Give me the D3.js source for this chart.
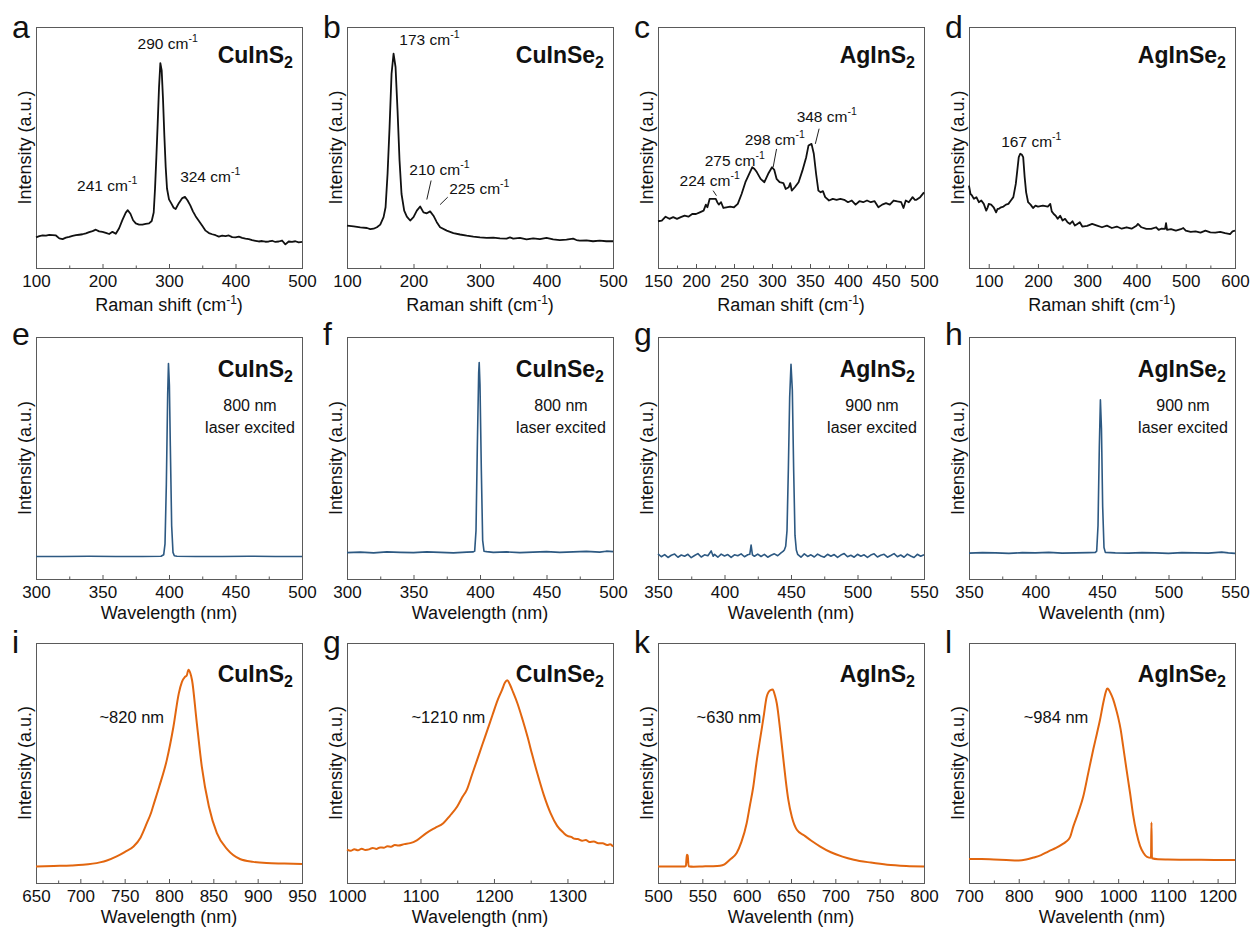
<!DOCTYPE html>
<html>
<head>
<meta charset="utf-8">
<script src="https://cdn.jsdelivr.net/npm/d3@7"></script>
<style>
  body { margin: 0; background: #fff; }
  svg { display: block; }
  text { font-family: "Liberation Sans", Arial, sans-serif; fill: #111; }
</style>
</head>
<body>
<svg id="fig" width="1250" height="928"></svg>
<script>
// ---- Raman spectra (intensity in % of plot height) ----
const ramanCuInS2 = [[100,12.7],[105,13.2],[110,13.5],[115,13.4],[120,13.7],[125,13.6],[130,13.5],[135,12.3],[140,12.0],[145,12.6],[150,12.9],[155,13.3],[160,13.6],[165,13.8],[170,14.0],[175,14.4],[180,14.9],[185,15.3],[190,15.9],[195,15.2],[200,15.0],[205,14.6],[210,14.1],[215,15.0],[220,14.2],[225,16.5],[230,20.0],[235,23.0],[238,24.0],[242,22.5],[246,19.8],[250,18.5],[255,18.0],[260,18.0],[265,18.3],[270,18.5],[274,19.5],[277,23],[279,33],[281,46],[283,60],[285,75],[287,85],[289,82],[291,70],[293,55],[295,42],[297,33],[300,28.5],[303,27.0],[307,25.0],[310,24.5],[315,27.0],[320,29.0],[324,29.5],[328,28],[332,26],[336,23.5],[340,21.5],[345,19.5],[350,17.5],[355,15.5],[360,14.5],[365,14.0],[370,13.6],[375,13.0],[380,13.4],[385,13.2],[390,13.5],[395,12.8],[400,12.7],[405,13.0],[410,12.5],[415,12.2],[420,12.0],[425,11.6],[430,11.3],[435,11.0],[440,11.2],[445,10.9],[450,11.0],[455,11.3],[460,10.8],[465,11.0],[470,11.4],[475,9.8],[480,11.0],[485,10.8],[490,11.1],[495,10.6],[500,10.8]];
const ramanCuInSe2 = [[100,17.6],[110,17.3],[120,16.9],[130,16.6],[135,16.1],[140,16.3],[145,16.9],[150,18.0],[155,21.1],[158,25.2],[161,39.1],[164,58.4],[167,80.6],[170,88.9],[173,83.4],[176,65.4],[179,44.6],[182,30.7],[186,23.8],[190,21.3],[195,19.7],[200,21.1],[205,23.8],[210,25.5],[215,23.1],[220,22.7],[225,23.5],[230,21.7],[235,19.0],[240,16.9],[250,15.5],[260,14.5],[270,13.9],[280,13.4],[290,13.0],[300,12.7],[310,12.5],[320,12.6],[330,12.3],[340,12.2],[345,12.7],[350,12.2],[360,12.5],[370,11.9],[380,12.3],[390,12.0],[400,12.5],[410,11.9],[420,11.6],[430,11.8],[440,12.2],[445,11.6],[450,11.4],[460,11.5],[470,11.1],[480,11.4],[490,11.1],[500,11.1]];
const ramanAgInS2 = [[150,19.4],[155,19.7],[160,21.3],[165,20.4],[170,21.1],[175,20.4],[180,21.1],[185,21.7],[190,21.3],[195,22.4],[200,22.4],[205,23.1],[210,23.8],[213,26.3],[215,25.2],[218,28.7],[222,28.7],[226,28.7],[228,27.3],[230,26.3],[233,27.3],[236,24.9],[240,25.2],[245,25.5],[250,25.2],[255,26.6],[260,30.7],[265,35.6],[270,39.1],[274,41.8],[277,41.1],[280,39.8],[285,37.0],[290,35.6],[295,39.1],[300,41.8],[303,40.7],[306,37.0],[310,35.6],[315,35.2],[318,32.8],[322,33.5],[324,35.2],[326,32.1],[330,33.5],[335,35.6],[340,40.4],[345,46.0],[348,50.8],[352,51.5],[355,47.4],[358,39.1],[361,32.1],[364,31.4],[367,31.9],[370,29.4],[375,28.0],[380,28.7],[385,28.3],[390,28.7],[395,28.3],[400,27.3],[405,28.0],[410,26.3],[415,27.7],[420,27.3],[425,28.0],[430,27.3],[435,27.7],[440,25.2],[445,26.3],[450,26.9],[455,26.3],[460,28.0],[465,27.6],[470,27.3],[473,24.9],[476,28.0],[480,27.3],[485,29.4],[488,28.3],[490,28.3],[495,29.4],[500,31.4]];
const ramanAgInSe2 = [[60,34.2],[63,30.7],[66,30.1],[70,28.7],[75,29.4],[80,27.3],[85,28.0],[90,26.6],[95,23.8],[98,25.2],[100,26.6],[105,26.3],[110,25.2],[115,23.1],[118,24.5],[120,24.5],[125,25.2],[130,25.5],[135,26.3],[140,26.6],[145,28.0],[150,29.4],[155,34.9],[158,40.4],[161,46.0],[164,47.4],[167,47.1],[170,46.0],[173,37.7],[176,31.4],[180,27.3],[185,26.3],[190,24.9],[195,25.9],[200,25.5],[210,25.9],[220,25.5],[225,26.6],[228,23.5],[232,22.4],[236,21.7],[240,20.4],[245,21.7],[250,19.7],[255,20.4],[260,19.0],[265,18.3],[270,19.4],[275,17.6],[280,18.3],[285,19.0],[290,17.2],[300,17.5],[310,18.3],[320,17.6],[330,16.9],[340,17.6],[350,16.6],[360,17.2],[370,16.3],[380,16.9],[390,16.3],[400,17.5],[403,18.3],[410,16.9],[420,16.2],[430,16.2],[440,16.9],[445,15.8],[450,16.3],[458,16.2],[460,18.6],[462,15.8],[470,16.1],[480,15.5],[490,16.1],[495,16.6],[500,15.5],[510,15.0],[520,15.2],[530,14.7],[540,15.5],[550,14.8],[560,14.7],[570,15.0],[580,14.5],[590,14.1],[595,15.2],[600,15.5]];

// ---- SHG spectra under laser excitation ----
const shgCuInS2 = [[300,9.3],[320,9.3],[340,9.4],[360,9.3],[380,9.3],[394,9.4],[396,10.0],[397,14.5],[398,39],[399,76],[399.6,89],[400.3,80],[401,55],[402,22],[403,11],[404,9.6],[406,9.4],[420,9.3],[440,9.3],[460,9.4],[480,9.3],[500,9.3]];
const shgCuInSe2 = [[300,10.9],[310,11.1],[320,10.8],[330,11.2],[340,11.0],[350,10.9],[360,11.2],[370,11.0],[380,10.8],[390,11.1],[395,11.2],[396,11.5],[397,20],[398,55],[399,85],[399.4,89.4],[400,80],[401,45],[402,16],[403,11.5],[405,11.3],[410,11.0],[420,11.2],[430,10.9],[440,11.1],[450,11.3],[460,11.0],[470,11.2],[480,11.4],[490,11.1],[495,11.5],[500,11.3]];
const shgAgInS2 = [[350,10.4],[352.5,9.2],[355,10.1],[357.5,8.9],[360,9.8],[362.5,10.3],[365,9.0],[367.5,9.9],[370,9.4],[372.5,10.2],[375,8.8],[377.5,9.7],[380,10.5],[382.5,9.1],[385,10.0],[387.5,9.6],[390,11.6],[391.5,9.4],[392.5,10.2],[395,9.0],[397.5,10.3],[400,9.5],[402.5,10.1],[405,8.9],[407.5,10.0],[410,9.6],[412.5,10.4],[415,9.2],[417.5,10.0],[419,10.2],[420,14.0],[421,10.0],[422.5,9.4],[425,10.3],[427.5,9.3],[430,10.2],[432.5,9.0],[435,9.8],[437.5,10.4],[440,9.6],[442.5,10.8],[444,11.4],[445,12],[446,13.5],[447,20],[448,45],[449,75],[450,88.7],[451,78],[452,45],[453,18],[454,12],[455,10.2],[457.5,9.0],[460,10.4],[462.5,9.3],[465,10.0],[467.5,9.1],[470,10.3],[472.5,9.5],[475,9.0],[477.5,10.2],[480,9.4],[482.5,10.1],[485,8.9],[487.5,9.9],[490,10.5],[492.5,9.2],[495,9.8],[497.5,9.0],[500,10.2],[502.5,9.4],[505,10.0],[507.5,8.9],[510,9.9],[512.5,10.4],[515,9.1],[517.5,9.8],[520,10.2],[522.5,9.0],[525,9.7],[527.5,10.5],[530,9.2],[532.5,9.9],[535,9.0],[537.5,10.3],[540,9.5],[542.5,8.9],[545,10.2],[547.5,9.4],[550,10.0]];
const shgAgInSe2 = [[350,10.7],[360,10.9],[370,10.8],[380,10.6],[390,10.9],[400,10.8],[410,11.0],[420,10.7],[430,10.8],[440,10.9],[445,11.0],[446,11.5],[447,22],[448,55],[448.8,74],[449.6,62],[450.5,30],[451.5,13],[452.5,11.0],[460,10.8],[470,10.7],[480,10.9],[490,10.8],[500,10.6],[510,10.9],[520,10.8],[530,10.7],[540,11.1],[545,10.8],[550,10.6]];

// ---- Photoluminescence spectra ----
const plCuInS2 = [[650,6.9],[670,7.1],[690,7.3],[703,7.6],[722,8.6],[730,9.4],[741,11.1],[750,12.9],[760,15.2],[768,19],[775,24.9],[780,29.5],[782,31.9],[789,40.2],[797.5,51.2],[805,65.1],[811,78.9],[814.6,83.8],[818,85.9],[820,86.5],[822,88.9],[824,87.5],[826,84.5],[831,67.9],[837,48.5],[845,31.9],[854,20.8],[866,13.9],[880,10.0],[895,8.8],[910,8.3],[930,8.1],[950,7.9]];
const plCuInSe2 = [[1000,13.9],[1005,13.4],[1010,14.1],[1015,13.6],[1020,14.3],[1025,13.8],[1030,14.0],[1035,14.6],[1040,14.2],[1045,14.8],[1050,14.7],[1055,15.3],[1060,15.1],[1065,15.8],[1070,15.6],[1078,16.2],[1086,16.6],[1095,17.8],[1108,20.8],[1120,23.0],[1131,24.9],[1140,28.0],[1150,31.9],[1157,35.8],[1163,38.8],[1170,45.0],[1177,51.2],[1184,57.5],[1191,63.7],[1198,70.0],[1205,76.2],[1211,80.5],[1215,83.5],[1218,84.5],[1222,82.5],[1226,79.5],[1232,74.8],[1239,68.0],[1245.7,60.9],[1252,53.5],[1259,45.7],[1268,36.5],[1277,29.1],[1286,23.8],[1295,20.8],[1300,19.6],[1305,19.2],[1310,18.4],[1314,18.3],[1320,17.6],[1325,17.9],[1330,17.1],[1336,17.3],[1342,16.6],[1348,16.6],[1354,15.8],[1358,16.1],[1362,15.2]];
const plAgInS2 = [[500,6.9],[510,6.9],[520,6.9],[530,6.9],[531.5,7.2],[532.5,11.8],[533.5,11.5],[534.5,7.0],[540,6.8],[550,6.9],[560,7.0],[570,7.2],[575,7.8],[581,9.7],[588.7,12.5],[594,17],[600,24.9],[603.5,32],[607.5,40.2],[611,50],[615,59.6],[619,69],[622.6,77.6],[626.4,80.3],[629.4,80.6],[632,78],[634,74.8],[638,63],[641.5,51.2],[644,43],[647,34.6],[651,27.5],[656.6,22.2],[665,19.8],[673,17.6],[683,15.2],[695,12.8],[708,11.0],[720.8,9.7],[740,8.5],[758.5,7.6],[780,7.1],[800,6.9]];
const plAgInSe2 = [[700,10.0],[725,10.0],[750,9.8],[775,9.6],[800,9.4],[815,9.8],[830,10.6],[845,11.6],[860,13.2],[875,14.6],[888,16.2],[895,17.2],[903,19.0],[909.7,23.5],[920,29.5],[929.8,36.0],[940,46],[950,55.7],[957,62],[963.4,67.9],[970,75],[975,79.5],[978,81.0],[981,80.6],[985,79.0],[990,76.5],[995,73],[1000,69],[1005,64],[1010,57],[1017,47],[1024,37.4],[1030,28.5],[1037,20.8],[1044,15.5],[1051,12.5],[1058,10.9],[1066,10.5],[1067,25.2],[1068,10.3],[1080,9.9],[1100,9.8],[1150,9.7],[1200,9.6],[1235,9.6]];

// ---- peak annotations (x in data units, y in %) ----
const notesA = [{n:'290', x:298, y:91}, {n:'241', x:207, y:32}, {n:'324', x:362, y:35.6}];
const notesB = [{n:'173', x:224, y:92.4}, {n:'210', x:239, y:38.4, lead:[226.5,36.3,220,28.4]}, {n:'225', x:299, y:30.7, lead:[251.5,29.4,240,26.3]}];
const notesC = [{n:'224', x:218, y:33.9, lead:[222.5,32.1,226.9,30]}, {n:'275', x:251, y:42.2}, {n:'298', x:303.7, y:51.2, lead:[306,49.4,301.5,41.8]}, {n:'348', x:372, y:60.5, lead:[362,57.8,357,51.5]}];
const notesD = [{n:'167', x:186.5, y:50.1}];
const plNotes = [{t:'~820 nm', x:758}, {t:'~1210 nm', x:1138}, {t:'~630 nm', x:580}, {t:'~984 nm', x:875}];
const laserNotes = ['800 nm', '800 nm', '900 nm', '900 nm'];

const letters = ['a','b','c','d','e','f','g','h','i','g','k','l'];
const compounds = ['CuInS', 'CuInSe', 'AgInS', 'AgInSe'];
const ramanDomains = [[100,500],[100,500],[150,500],[60,600]];
const ramanTicks = [[100,200,300,400,500],[100,200,300,400,500],[150,200,250,300,350,400,450,500],[100,200,300,400,500,600]];
const shgDomains = [[300,500],[300,500],[350,550],[350,550]];
const shgTicks = [[300,350,400,450,500],[300,350,400,450,500],[350,400,450,500,550],[350,400,450,500,550]];
const plDomains = [[650,950],[1000,1362],[500,800],[700,1235]];
const plTicks = [[650,700,750,800,850,900,950],[1000,1100,1200,1300],[500,550,600,650,700,750,800],[700,800,900,1000,1100,1200]];
const shgTitles = ['Wavelength (nm)','Wavelength (nm)','Wavelenth (nm)','Wavelenth (nm)'];
const plTitles = ['Wavelength (nm)','Wavelength (nm)','Wavelenth (nm)','Wavelenth (nm)'];

const ramanData = [ramanCuInS2, ramanCuInSe2, ramanAgInS2, ramanAgInSe2];
const shgData = [shgCuInS2, shgCuInSe2, shgAgInS2, shgAgInSe2];
const plData = [plCuInS2, plCuInSe2, plAgInS2, plAgInSe2];
const ramanNotes = [notesA, notesB, notesC, notesD];

// ---- layout ----
const colLeft = [36, 347, 658, 969];
const rowTop = [27, 337, 643];
const rowH = [241, 242, 240];
const W = 266;
const rowColor = ['#111111', '#2d5982', '#e2660f'];
const rowWidth = [1.8, 1.6, 2];
const nameDy = [36, 40, 39];
const letterDy = [11, 8, 10];
const titleDy = [43, 40, 40];

const svg = d3.select('#fig');
svg.append('rect').attr('width', 1250).attr('height', 928).attr('fill', '#fff');

function supText(sel, before, sup, after, size) {
  sel.append('tspan').text(before);
  sel.append('tspan').attr('dy', -7).attr('font-size', size).text(sup);
  if (after) sel.append('tspan').attr('dy', 7).text(after);
}

function drawPanel(row, col, data, domain, ticks, title) {
  const left = colLeft[col], top = rowTop[row], h = rowH[row];
  const x = d3.scaleLinear().domain(domain).range([left, left + W]);
  const y = d3.scaleLinear().domain([0, 100]).range([top + h, top]);
  const g = svg.append('g');

  const step = ticks[1] - ticks[0];
  const minor = d3.range(ticks[0] + step / 2, domain[1], step).concat(ticks[0] - step / 2 > domain[0] ? [ticks[0] - step / 2] : []);

  g.append('g').attr('transform', `translate(0,${top + h})`)
    .call(d3.axisBottom(x).tickValues(minor).tickSize(-2.5).tickFormat(''))
    .call(a => a.select('.domain').remove())
    .call(a => a.selectAll('line').attr('stroke', '#555'));
  g.append('g').attr('transform', `translate(0,${top + h})`)
    .call(d3.axisBottom(x).tickValues(ticks).tickSizeInner(-4).tickSizeOuter(0).tickPadding(8).tickFormat(d3.format('d')))
    .call(a => a.select('.domain').remove())
    .call(a => a.selectAll('line').attr('stroke', '#555'))
    .call(a => a.selectAll('text').attr('font-size', 17).attr('fill', '#1a1a1a')
      .attr('font-family', '"Liberation Sans", Arial, sans-serif').attr('dy', '0.66em'));

  g.append('rect').attr('x', left + 0.5).attr('y', top + 0.5).attr('width', W).attr('height', h)
    .attr('fill', 'none').attr('stroke', '#5a5a5a').attr('stroke-width', 1);

  const line = d3.line().x(d => x(d[0])).y(d => y(d[1]))
    .curve(row === 2 ? d3.curveMonotoneX : d3.curveLinear);
  g.append('path').datum(data).attr('d', line).attr('fill', 'none')
    .attr('stroke', rowColor[row]).attr('stroke-width', rowWidth[row]).attr('stroke-linejoin', 'round');

  // axis titles
  const xt = g.append('text').attr('x', left + W / 2).attr('y', top + h + titleDy[row])
    .attr('text-anchor', 'middle').attr('font-size', 18);
  if (title === 'raman') supText(xt, 'Raman shift (cm', '-1', ')', 12);
  else xt.text(title);
  g.append('text').attr('transform', `translate(${left - 5},${top + h / 2}) rotate(-90)`)
    .attr('text-anchor', 'middle').attr('font-size', 18).text('Intensity (a.u.)');

  // panel letter
  g.append('text').attr('x', left - 24).attr('y', top + letterDy[row]).attr('font-size', 32)
    .text(letters[row * 4 + col]);

  // compound label
  const nm = g.append('text').attr('x', left + W - 9).attr('y', top + nameDy[row])
    .attr('text-anchor', 'end').attr('font-size', 23).attr('font-weight', 'bold');
  nm.append('tspan').text(compounds[col]);
  nm.append('tspan').attr('dy', 5).attr('font-size', 16).text('2');

  return { g, x, y, left, top, h };
}

for (let c = 0; c < 4; c++) {
  // Raman
  const p = drawPanel(0, c, ramanData[c], ramanDomains[c], ramanTicks[c], 'raman');
  ramanNotes[c].forEach(n => {
    const t = p.g.append('text').attr('x', p.x(n.x)).attr('y', p.y(n.y))
      .attr('text-anchor', 'middle').attr('font-size', 15.5);
    supText(t, n.n + ' cm', '-1', null, 10.5);
    if (n.lead) {
      p.g.append('line').attr('x1', p.x(n.lead[0])).attr('y1', p.y(n.lead[1]))
        .attr('x2', p.x(n.lead[2])).attr('y2', p.y(n.lead[3]))
        .attr('stroke', '#222').attr('stroke-width', 1);
    }
  });

  // SHG
  const q = drawPanel(1, c, shgData[c], shgDomains[c], shgTicks[c], shgTitles[c]);
  q.g.append('text').attr('x', q.left + W - 52).attr('y', q.top + 74)
    .attr('text-anchor', 'middle').attr('font-size', 16).text(laserNotes[c]);
  q.g.append('text').attr('x', q.left + W - 52).attr('y', q.top + 96)
    .attr('text-anchor', 'middle').attr('font-size', 16).text('laser excited');

  // PL
  const r = drawPanel(2, c, plData[c], plDomains[c], plTicks[c], plTitles[c]);
  r.g.append('text').attr('x', r.x(plNotes[c].x)).attr('y', r.y(66.8))
    .attr('text-anchor', 'middle').attr('font-size', 16.5).text(plNotes[c].t);
}
</script>
</body>
</html>
